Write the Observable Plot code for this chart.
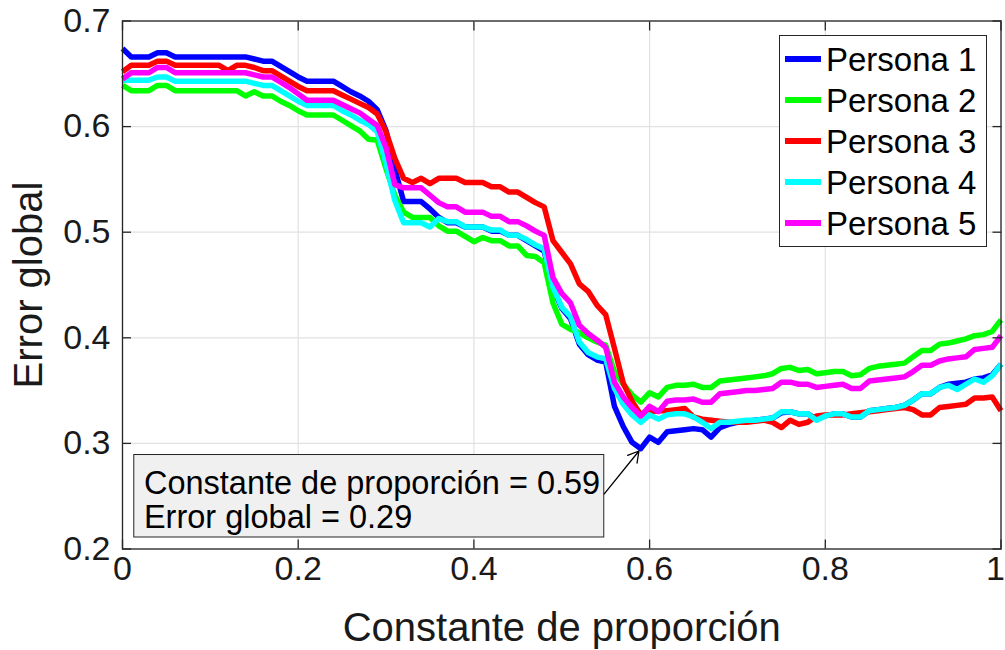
<!DOCTYPE html>
<html>
<head>
<meta charset="utf-8">
<script src="https://cdn.jsdelivr.net/npm/d3@7"></script>
<script src="https://cdn.jsdelivr.net/npm/@observablehq/plot@0.6"></script>
<style>
  body { margin: 0; background: #fff; }
  #wrap { position: relative; width: 1005px; height: 650px; font-family: "Liberation Sans", Arial, Helvetica, sans-serif; }
  #legend { position: absolute; left: 779px; top: 35px; width: 208px; height: 212px; box-sizing: border-box;
            border: 1px solid #262626; background: #fff; }
  .row { position: absolute; left: 0; height: 40px; display: flex; align-items: center; }
  .sw { width: 36px; height: 6px; margin-left: 5px; margin-right: 5px; }
  .lt { font-size: 33px; color: #000; line-height: 1; }
</style>
</head>
<body>
<div id="wrap"><div id="chart"></div><div id="legend"></div></div>
<script>
// ---------- data ----------
const xs = [0.00,0.01,0.02,0.03,0.04,0.05,0.06,0.07,0.08,0.09,0.10,0.11,0.12,0.13,0.14,0.15,0.16,0.17,0.18,0.19,
  0.20,0.21,0.22,0.23,0.24,0.25,0.26,0.27,0.28,0.29,0.30,0.31,0.32,0.33,0.34,0.35,0.36,0.37,0.38,0.39,
  0.40,0.41,0.42,0.43,0.44,0.45,0.46,0.47,0.48,0.49,0.50,0.51,0.52,0.53,0.54,0.55,0.56,0.57,0.58,0.59,
  0.60,0.61,0.62,0.63,0.64,0.65,0.66,0.67,0.68,0.69,0.70,0.71,0.72,0.73,0.74,0.75,0.76,0.77,0.78,0.79,
  0.80,0.81,0.82,0.83,0.84,0.85,0.86,0.87,0.88,0.89,0.90,0.91,0.92,0.93,0.94,0.95,0.96,0.97,0.98,0.99,1.00];

const persona1 = [0.674,0.666,0.666,0.666,0.670,0.670,0.666,0.666,0.666,0.666,0.666,0.666,0.666,0.666,0.666,0.664,0.662,0.662,0.657,0.652,
  0.647,0.643,0.643,0.643,0.643,0.638,0.633,0.629,0.624,0.616,0.596,0.560,0.529,0.529,0.529,0.522,0.514,0.509,0.509,0.505,
  0.505,0.505,0.501,0.501,0.497,0.497,0.492,0.487,0.482,0.447,0.428,0.418,0.394,0.384,0.379,0.377,0.335,0.316,0.301,0.295,
  0.306,0.301,0.311,0.312,0.313,0.314,0.313,0.306,0.315,0.318,0.320,0.321,0.322,0.323,0.324,0.329,0.330,0.328,0.328,0.323,
  0.326,0.328,0.328,0.325,0.325,0.331,0.332,0.333,0.334,0.336,0.341,0.347,0.347,0.353,0.356,0.357,0.358,0.361,0.362,0.365,0.375];

const persona2 = [0.639,0.634,0.634,0.634,0.639,0.639,0.634,0.634,0.634,0.634,0.634,0.634,0.634,0.634,0.629,0.633,0.629,0.629,0.624,0.620,
  0.615,0.611,0.611,0.611,0.611,0.606,0.601,0.596,0.588,0.587,0.560,0.535,0.519,0.514,0.514,0.514,0.506,0.501,0.501,0.496,
  0.491,0.495,0.492,0.492,0.487,0.487,0.478,0.477,0.471,0.433,0.413,0.408,0.405,0.400,0.396,0.393,0.368,0.356,0.346,0.339,
  0.348,0.344,0.353,0.355,0.355,0.356,0.353,0.353,0.359,0.360,0.361,0.362,0.363,0.364,0.366,0.371,0.372,0.369,0.370,0.366,
  0.367,0.368,0.368,0.364,0.365,0.371,0.373,0.374,0.375,0.376,0.382,0.388,0.388,0.394,0.395,0.397,0.399,0.402,0.403,0.406,0.417];

const persona3 = [0.652,0.658,0.658,0.658,0.662,0.662,0.658,0.658,0.658,0.658,0.658,0.658,0.653,0.658,0.658,0.656,0.653,0.653,0.648,0.643,
  0.638,0.634,0.634,0.634,0.634,0.630,0.626,0.622,0.618,0.612,0.595,0.570,0.551,0.547,0.551,0.546,0.551,0.551,0.551,0.547,
  0.547,0.547,0.543,0.543,0.538,0.538,0.533,0.528,0.524,0.492,0.481,0.470,0.451,0.444,0.431,0.422,0.390,0.357,0.340,0.327,
  0.330,0.331,0.331,0.332,0.333,0.325,0.323,0.322,0.321,0.320,0.320,0.320,0.321,0.322,0.320,0.315,0.322,0.318,0.320,0.326,
  0.327,0.327,0.327,0.328,0.329,0.330,0.331,0.332,0.333,0.334,0.332,0.327,0.327,0.334,0.335,0.336,0.337,0.343,0.343,0.344,0.331];

const persona4 = [0.644,0.644,0.644,0.644,0.647,0.647,0.643,0.643,0.643,0.643,0.643,0.643,0.643,0.643,0.643,0.641,0.639,0.639,0.634,0.629,
  0.624,0.620,0.620,0.620,0.620,0.615,0.611,0.606,0.602,0.595,0.565,0.530,0.509,0.509,0.509,0.505,0.513,0.510,0.510,0.505,
  0.505,0.505,0.502,0.502,0.497,0.497,0.493,0.488,0.484,0.448,0.429,0.420,0.396,0.386,0.382,0.380,0.352,0.337,0.327,0.320,
  0.327,0.323,0.327,0.328,0.328,0.325,0.320,0.314,0.320,0.320,0.321,0.322,0.322,0.323,0.324,0.330,0.330,0.328,0.328,0.322,
  0.326,0.328,0.328,0.325,0.325,0.331,0.332,0.333,0.334,0.336,0.341,0.347,0.347,0.353,0.355,0.351,0.356,0.361,0.358,0.364,0.375];

const persona5 = [0.645,0.651,0.651,0.651,0.656,0.656,0.651,0.651,0.651,0.651,0.651,0.651,0.651,0.651,0.651,0.649,0.647,0.647,0.642,0.637,
  0.631,0.625,0.625,0.625,0.625,0.621,0.617,0.613,0.607,0.601,0.580,0.545,0.542,0.542,0.542,0.535,0.528,0.524,0.524,0.519,
  0.519,0.519,0.515,0.515,0.510,0.510,0.506,0.501,0.497,0.457,0.442,0.433,0.412,0.404,0.398,0.391,0.358,0.344,0.334,0.326,
  0.335,0.330,0.340,0.341,0.341,0.342,0.339,0.339,0.347,0.348,0.349,0.350,0.350,0.351,0.352,0.358,0.358,0.356,0.356,0.353,
  0.354,0.355,0.356,0.352,0.352,0.359,0.360,0.361,0.362,0.363,0.368,0.374,0.374,0.378,0.380,0.381,0.382,0.389,0.390,0.391,0.402];

const seriesNames = ["Persona 1", "Persona 2", "Persona 3", "Persona 4", "Persona 5"];
const seriesValues = [persona1, persona2, persona3, persona4, persona5];
const seriesColors = ["#0000ff", "#00ff00", "#ff0000", "#00ffff", "#ff00ff"];

const xTicks = [0, 0.2, 0.4, 0.6, 0.8, 1];
const xTickLabels = ["0", "0.2", "0.4", "0.6", "0.8", "1"];
const yTicks = [0.2, 0.3, 0.4, 0.5, 0.6, 0.7];
const yTickLabels = ["0.2", "0.3", "0.4", "0.5", "0.6", "0.7"];
const xLabel = "Constante de proporción";
const yLabel = "Error global";

const tipX = 0.59;                                  // datatip point on Persona 1
const tipY = persona1[xs.indexOf(0.59)];
const tipLines = ["Constante de proporción = 0.59", "Error global = 0.29"];

// ---------- layout (data-space placement of the datatip box) ----------
const tipBox = {x1: 0.0134, x2: 0.5484, y1: 0.2109, y2: 0.2890};
const tipTextX = 0.0244;
const tipTextY = [0.2620, 0.2294];
const tipArrowStartY = 0.2522;

const rows = seriesNames.flatMap((s, k) => xs.map((x, i) => ({x, y: seriesValues[k][i], s})));
const AX = "#262626";
const FONT = '"Liberation Sans", Arial, Helvetica, sans-serif';
const lastX = xTicks[xTicks.length - 1];

const chart = Plot.plot({
  width: 1005, height: 650,
  marginLeft: 122, marginRight: 4.5, marginTop: 20.5, marginBottom: 101.5,
  x: {domain: [0, 1]},
  y: {domain: [0.2, 0.7]},
  color: {domain: seriesNames, range: seriesColors},
  style: {fontFamily: FONT, fontSize: "34px", background: "#fff", color: "#000"},
  marks: [
    Plot.gridX(xTicks, {stroke: "#e2e2e2", strokeOpacity: 1, strokeWidth: 1.2}),
    Plot.gridY(yTicks, {stroke: "#e2e2e2", strokeOpacity: 1, strokeWidth: 1.2}),
    Plot.line(rows, {x: "x", y: "y", z: "s", stroke: "s", strokeWidth: 5.5, strokeLinejoin: "round", strokeLinecap: "butt"}),
    Plot.rect([tipBox], {x1: "x1", x2: "x2", y1: "y1", y2: "y2", fill: "#f0f0f0", stroke: AX, strokeWidth: 1}),
    Plot.text(tipLines, {x: () => tipTextX, y: (d, i) => tipTextY[i], text: d => d, textAnchor: "start", fontSize: 32.5, fill: "#000"}),
    Plot.arrow([{x1: tipBox.x2, y1: tipArrowStartY, x2: tipX, y2: tipY}],
      {x1: "x1", y1: "y1", x2: "x2", y2: "y2", stroke: "#000", strokeWidth: 1.3, headLength: 14, insetEnd: 3}),
    Plot.frame({stroke: AX, strokeWidth: 1.3}),
    // tick marks pointing inward on all four sides
    Plot.axisX(xTicks, {anchor: "bottom", tickSize: 9, dy: -9, fill: "none", stroke: AX, strokeWidth: 1.3, label: null}),
    Plot.axisX(xTicks, {anchor: "top", tickSize: 9, dy: 9, fill: "none", stroke: AX, strokeWidth: 1.3, label: null}),
    Plot.axisY(yTicks, {anchor: "left", tickSize: 9, dx: 9, fill: "none", stroke: AX, strokeWidth: 1.3, label: null}),
    Plot.axisY(yTicks, {anchor: "right", tickSize: 9, dx: -9, fill: "none", stroke: AX, strokeWidth: 1.3, label: null}),
    // tick labels (the last x label is right-aligned so it stays inside the picture)
    Plot.axisX(xTicks.filter(d => d !== lastX), {anchor: "bottom", tickSize: 0, tickPadding: 7, fontSize: 34, fill: "#1a1a1a",
      tickFormat: d => xTickLabels[xTicks.indexOf(d)], label: null}),
    Plot.axisX([lastX], {anchor: "bottom", tickSize: 0, tickPadding: 7, fontSize: 34, fill: "#1a1a1a", textAnchor: "end", dx: 4,
      tickFormat: d => xTickLabels[xTicks.indexOf(d)], label: null}),
    Plot.axisY(yTicks, {anchor: "left", tickSize: 0, tickPadding: 12, fontSize: 34, fill: "#1a1a1a",
      tickFormat: d => yTickLabels[yTicks.indexOf(d)], label: null}),
    // axis titles
    Plot.text([xLabel], {frameAnchor: "bottom", dy: 79, text: d => d, fontSize: 40, fill: "#1a1a1a", textAnchor: "middle", lineAnchor: "middle"}),
    Plot.text([yLabel], {frameAnchor: "left", dx: -93, rotate: -90, text: d => d, fontSize: 40, fill: "#1a1a1a", textAnchor: "middle", lineAnchor: "middle"})
  ]
});
document.getElementById("chart").appendChild(chart);

// legend (inside the axes, top-right)
const legend = document.getElementById("legend");
seriesNames.forEach((name, i) => {
  const row = document.createElement("div");
  row.className = "row";
  row.style.top = (3 + i * 41.1) + "px";
  const sw = document.createElement("div");
  sw.className = "sw";
  sw.style.background = seriesColors[i];
  const t = document.createElement("span");
  t.className = "lt";
  t.textContent = name;
  row.appendChild(sw); row.appendChild(t);
  legend.appendChild(row);
});
</script>
</body>
</html>
